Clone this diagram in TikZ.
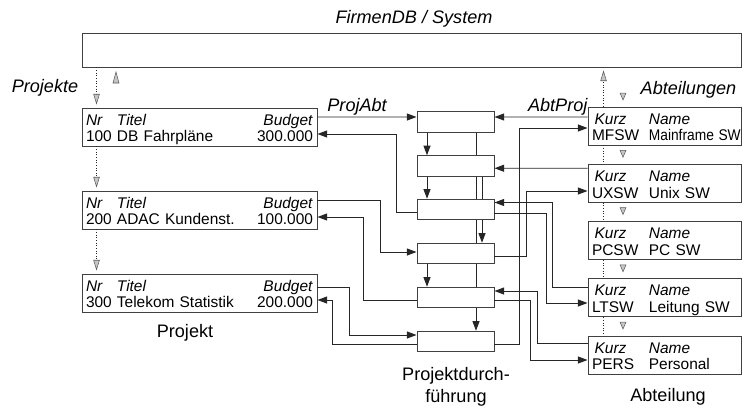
\documentclass[tikz,border=0pt]{standalone}
\usepackage{fontspec}
\setmainfont{Liberation Sans}
\usetikzlibrary{arrows.meta}

\newcommand{\toprow}{\rule{0pt}{9.57pt}}
\newcommand{\botrow}{\rule[-2.2pt]{0pt}{2.2pt}}

\begin{document}
\begin{tikzpicture}[
        line width=0.55pt,
        boxfont/.style={font=\fontsize{8.8}{9.64}\selectfont},
        lbl/.style={font=\fontsize{10.3}{12.5}\selectfont\itshape, inner sep=1pt},
        caption/.style={font=\fontsize{10.3}{12.5}\selectfont, align=center, inner sep=0pt},
        projbox/.style={draw=black!75, fill=white, boxfont, minimum width=4.7cm, minimum height=0.76cm, text width=4.54cm, align=left, inner xsep=0.08cm, inner ysep=0pt},
        abtbox/.style={draw=black!75, fill=white, boxfont, minimum width=3.06cm, minimum height=0.76cm, text width=2.9cm, align=left, inner xsep=0.08cm, inner ysep=0pt},
        durchbox/.style={draw=black!75, fill=white, minimum width=1.54cm, minimum height=0.41cm, inner sep=0pt},
        flow/.style={draw=black!85, -{Triangle[length=5.5pt, width=4pt]}},
        link/.style={draw=black!85},
        dbflow/.style={densely dotted, draw=black!85, line width=0.5pt, -{Triangle[length=6pt, width=3.6pt, color=gray!70!black, fill=gray!45, line width=0.3pt]}, shorten >=1.7pt},
        dblink/.style={densely dotted, draw=black!85, line width=0.5pt},
        chev/.style={fill=gray!45, draw=gray!70!black, line width=0.3pt},
    ]
    \useasboundingbox (0,0) rectangle (14.9,8.16);

    %====================== Datenbank ======================
    \node[lbl, inner sep=0pt] (title) at (8.28, 7.79) {FirmenDB / System};
    \node[draw=black!75, minimum width=13.18cm, minimum height=0.68cm] (sys) at (8.23, 7.16) {};

    \node[lbl] (projekte) at (0.9, 6.4) {Projekte};
    \node[lbl] (abteilungen) at (13.77, 6.37) {Abteilungen};

    %====================== Projekt (links) ======================
    \node[projbox] (p1) at (3.99, 5.62) {\toprow\makebox[2em][l]{\itshape Nr}\textit{Titel}\hfill\textit{Budget}\hspace*{3.4pt}\\ \botrow 100 DB Fahrpläne\hfill 300.000\hspace*{3.4pt}};
    \node[projbox] (p2) at (3.99, 3.96) {\toprow\makebox[2em][l]{\itshape Nr}\textit{Titel}\hfill\textit{Budget}\hspace*{3.4pt}\\ \botrow 200 ADAC Kundenst.\hfill 100.000\hspace*{3.4pt}};
    \node[projbox] (p3) at (3.99, 2.30) {\toprow\makebox[2em][l]{\itshape Nr}\textit{Titel}\hfill\textit{Budget}\hspace*{3.4pt}\\ \botrow 300 Telekom Statistik\hfill 200.000\hspace*{3.4pt}};
    \node[caption] (projekt-cap) at (3.7, 1.5) {Projekt};

    %====================== Projektdurchführung (Mitte) ======================
    \foreach \i/\y in {1/5.72, 2/4.84, 3/3.97, 4/3.09, 5/2.21, 6/1.33}
        \node[durchbox] (d\i) at (9.11, \y) {};
    \node[caption] (durch-cap) at (9.12, 0.43) {Projektdurch-\\führung};

    %====================== Abteilung (rechts) ======================
    \node[abtbox] (a1) at (13.29, 5.64) {\toprow\makebox[3.68em][l]{\hspace*{1.5pt}\itshape Kurz}\textit{Name}\\ \botrow\makebox[3.68em][l]{MFSW}\scalebox{0.89}[1]{Mainframe SW}};
    \node[abtbox] (a2) at (13.29, 4.495) {\toprow\makebox[3.68em][l]{\hspace*{1.5pt}\itshape Kurz}\textit{Name}\\ \botrow\makebox[3.68em][l]{UXSW}Unix SW};
    \node[abtbox] (a3) at (13.29, 3.35) {\toprow\makebox[3.68em][l]{\hspace*{1.5pt}\itshape Kurz}\textit{Name}\\ \botrow\makebox[3.68em][l]{PCSW}PC SW};
    \node[abtbox] (a4) at (13.29, 2.205) {\toprow\makebox[3.68em][l]{\hspace*{1.5pt}\itshape Kurz}\textit{Name}\\ \botrow\makebox[3.68em][l]{LTSW}Leitung SW};
    \node[abtbox] (a5) at (13.29, 1.06) {\toprow\makebox[3.68em][l]{\hspace*{1.5pt}\itshape Kurz}\textit{Name}\\ \botrow\makebox[3.68em][l]{PERS}Personal};
    \node[caption] (abt-cap) at (13.36, 0.22) {Abteilung};

    %====================== gepunktete Verweise ======================
    \coordinate (p-db) at ([xshift=3mm]p1.north west);
    \draw[dbflow] (p-db |- sys.south) -- (p-db);
    \foreach \a/\b in {1/2, 2/3}
        \draw[dbflow] ([xshift=3mm]p\a.south west) -- ([xshift=3mm]p\b.north west);
    \filldraw[chev] (2.26, 6.5) -- (2.32, 6.72) -- (2.38, 6.5) -- cycle;

    \coordinate (a-db) at ([xshift=3.2mm]a1.north west);
    \draw[dbflow] (a-db) -- (a-db |- sys.south);
    \foreach \a/\b in {1/2, 2/3, 3/4, 4/5}
        \draw[dblink] ([xshift=3.2mm]a\a.south west) -- ([xshift=3.2mm]a\b.north west);
    \foreach \i in {1,...,5}
        \filldraw[chev] ([shift={(-0.89,0.27)}]a\i.north) -- ++(0.06,-0.14) -- ++(0.06,0.14) -- cycle;

    %====================== Verbindungen Mitte ======================
    \foreach \a/\b in {1/2, 2/3, 4/5}
        \draw[flow] ([xshift=-5.7mm]d\a.south) -- ([xshift=-5.7mm]d\b.north);
    \foreach \a/\b in {1/2, 2/3, 3/4, 4/5}
        \draw[link] ([xshift=4.1mm]d\a.south) -- ([xshift=4.1mm]d\b.north);
    \draw[flow] ([xshift=4.1mm]d5.south) -- ([xshift=4.1mm]d6.north);
    \draw[link] ([xshift=5.3mm]d2.south) -- ([xshift=5.3mm]d3.north);
    \draw[flow] ([xshift=5.3mm]d3.south) -- ([xshift=5.3mm]d4.north);

    %====================== Verbindungen links ======================
    \draw[flow] ([yshift=2mm]p1.east) -- ([yshift=1mm]d1.west) node[lbl, above, pos=0.4] (projabt) {ProjAbt};
    \draw[flow] ([yshift=-0.5mm]d3.west) -- ++(-0.4,0) |- ([yshift=-1.4mm]p1.east);
    \draw[flow] ([yshift=2mm]p2.east) -- ++(1.26,0) |- ([yshift=0.3mm]d4.west);
    \draw[flow] ([yshift=-0.5mm]d5.west) -- ++(-1.06,0) |- ([yshift=-1.4mm]p2.east);
    \draw[flow] ([yshift=1.2mm]p3.east) -- ++(0.64,0) |- ([yshift=1.3mm]d6.west);
    \draw[flow] ([yshift=-0.5mm]d6.west) -- ++(-1.68,0) |- ([yshift=-1.4mm]p3.east);

    %====================== Verbindungen rechts ======================
    \draw[flow] ([yshift=1.8mm]a1.west) -- ([yshift=1mm]d1.east) node[lbl, above, pos=0.32] (abtproj) {AbtProj};
    \draw[flow] ([yshift=-0.5mm]d6.east) -- ++(0.5,0) |- ([yshift=-0.4mm]a1.west);
    \draw[flow] ([yshift=3mm]a2.west) -- ([yshift=-0.45mm]d2.east);
    \draw[flow] ([yshift=-0.5mm]d4.east) -- ++(0.64,0) |- ([yshift=-1.55mm]a2.west);
    \draw[flow] ([yshift=2.15mm]a4.west) -- ++(-0.7,0) |- ([yshift=1.4mm]d3.east);
    \draw[flow] ([yshift=-0.7mm]d3.east) -- ++(1.04,0) |- ([yshift=-1.05mm]a4.west);
    \draw[flow] ([yshift=2.4mm]a5.west) -- ++(-1.0,0) |- ([yshift=1.3mm]d5.east);
    \draw[flow] ([yshift=-0.5mm]d5.east) -- ++(0.72,0) |- ([yshift=-1mm]a5.west);

\end{tikzpicture}
\end{document}
